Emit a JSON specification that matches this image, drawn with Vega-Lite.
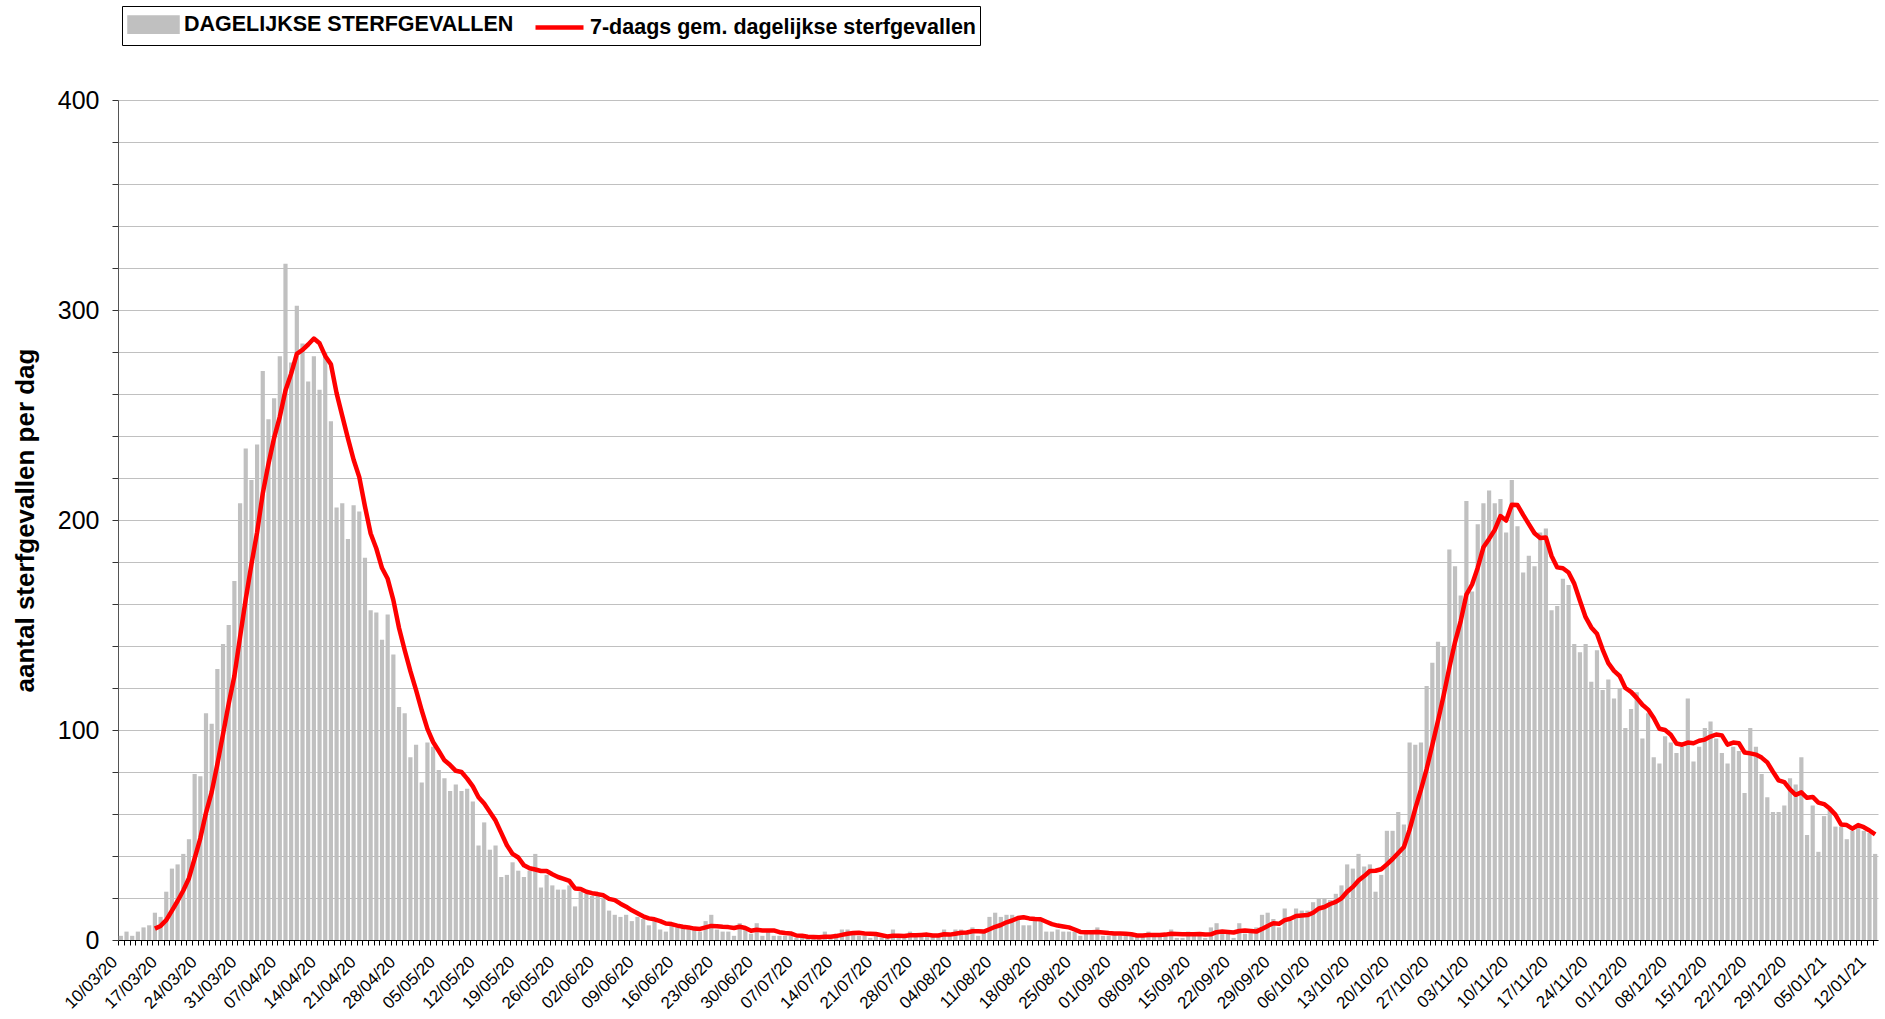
{
"$schema":"https://vega.github.io/schema/vega-lite/v6.json",
"width":1760,"height":840,
"autosize":{"type":"none"},
"padding":{"left":118,"top":100,"right":7,"bottom":79},
"background":"white",
"config":{"view":{"stroke":null},"font":"Liberation Sans"},
"data":{"values":[
{"date":"10/03/20","deaths":2},{"date":"11/03/20","deaths":4},{"date":"12/03/20","deaths":2},{"date":"13/03/20","deaths":4},{"date":"14/03/20","deaths":6},{"date":"15/03/20","deaths":7},
{"date":"16/03/20","deaths":13,"avg7":5.43},{"date":"17/03/20","deaths":11,"avg7":6.71},{"date":"18/03/20","deaths":23,"avg7":9.43},{"date":"19/03/20","deaths":34,"avg7":14},{"date":"20/03/20","deaths":36,"avg7":18.57},{"date":"21/03/20","deaths":41,"avg7":23.57},{"date":"22/03/20","deaths":48,"avg7":29.43},{"date":"23/03/20","deaths":79,"avg7":38.86},{"date":"24/03/20","deaths":78,"avg7":48.43},{"date":"25/03/20","deaths":108,"avg7":60.57},{"date":"26/03/20","deaths":103,"avg7":70.43},{"date":"27/03/20","deaths":129,"avg7":83.71},{"date":"28/03/20","deaths":141,"avg7":98},{"date":"29/03/20","deaths":150,"avg7":112.57},{"date":"30/03/20","deaths":171,"avg7":125.71},{"date":"31/03/20","deaths":208,"avg7":144.29},
{"date":"01/04/20","deaths":234,"avg7":162.29},{"date":"02/04/20","deaths":219,"avg7":178.86},{"date":"03/04/20","deaths":236,"avg7":194.14},{"date":"04/04/20","deaths":271,"avg7":212.71},{"date":"05/04/20","deaths":248,"avg7":226.71},{"date":"06/04/20","deaths":258,"avg7":239.14},{"date":"07/04/20","deaths":278,"avg7":249.14},{"date":"08/04/20","deaths":322,"avg7":261.71},{"date":"09/04/20","deaths":275,"avg7":269.71},{"date":"10/04/20","deaths":302,"avg7":279.14},{"date":"11/04/20","deaths":284,"avg7":281},{"date":"12/04/20","deaths":266,"avg7":283.57},{"date":"13/04/20","deaths":278,"avg7":286.43},{"date":"14/04/20","deaths":262,"avg7":284.14},{"date":"15/04/20","deaths":280,"avg7":278.14},{"date":"16/04/20","deaths":247,"avg7":274.14},{"date":"17/04/20","deaths":206,"avg7":260.43},{"date":"18/04/20","deaths":208,"avg7":249.57},{"date":"19/04/20","deaths":191,"avg7":238.86},{"date":"20/04/20","deaths":207,"avg7":228.71},{"date":"21/04/20","deaths":204,"avg7":220.43},{"date":"22/04/20","deaths":182,"avg7":206.43},{"date":"23/04/20","deaths":157,"avg7":193.57},{"date":"24/04/20","deaths":156,"avg7":186.43},{"date":"25/04/20","deaths":143,"avg7":177.14},{"date":"26/04/20","deaths":155,"avg7":172},{"date":"27/04/20","deaths":136,"avg7":161.86},{"date":"28/04/20","deaths":111,"avg7":148.57},{"date":"29/04/20","deaths":108,"avg7":138},{"date":"30/04/20","deaths":87,"avg7":128},
{"date":"01/05/20","deaths":93,"avg7":119},{"date":"02/05/20","deaths":75,"avg7":109.29},{"date":"03/05/20","deaths":94,"avg7":100.57},{"date":"04/05/20","deaths":92,"avg7":94.29},{"date":"05/05/20","deaths":81,"avg7":90},{"date":"06/05/20","deaths":77,"avg7":85.57},{"date":"07/05/20","deaths":71,"avg7":83.29},{"date":"08/05/20","deaths":74,"avg7":80.57},{"date":"09/05/20","deaths":71,"avg7":80},{"date":"10/05/20","deaths":72,"avg7":76.86},{"date":"11/05/20","deaths":66,"avg7":73.14},{"date":"12/05/20","deaths":45,"avg7":68},{"date":"13/05/20","deaths":56,"avg7":65},{"date":"14/05/20","deaths":43,"avg7":61},{"date":"15/05/20","deaths":45,"avg7":56.86},{"date":"16/05/20","deaths":30,"avg7":51},{"date":"17/05/20","deaths":31,"avg7":45.14},{"date":"18/05/20","deaths":37,"avg7":41},{"date":"19/05/20","deaths":33,"avg7":39.29},{"date":"20/05/20","deaths":30,"avg7":35.57},{"date":"21/05/20","deaths":33,"avg7":34.14},{"date":"22/05/20","deaths":41,"avg7":33.57},{"date":"23/05/20","deaths":25,"avg7":32.86},{"date":"24/05/20","deaths":31,"avg7":32.86},{"date":"25/05/20","deaths":26,"avg7":31.29},{"date":"26/05/20","deaths":24,"avg7":30},{"date":"27/05/20","deaths":24,"avg7":29.14},{"date":"28/05/20","deaths":26,"avg7":28.14},{"date":"29/05/20","deaths":16,"avg7":24.57},{"date":"30/05/20","deaths":23,"avg7":24.29},{"date":"31/05/20","deaths":22,"avg7":23},
{"date":"01/06/20","deaths":21,"avg7":22.29},{"date":"02/06/20","deaths":21,"avg7":21.86},{"date":"03/06/20","deaths":20,"avg7":21.29},{"date":"04/06/20","deaths":14,"avg7":19.57},{"date":"05/06/20","deaths":12,"avg7":19},{"date":"06/06/20","deaths":11,"avg7":17.29},{"date":"07/06/20","deaths":12,"avg7":15.86},{"date":"08/06/20","deaths":9,"avg7":14.14},{"date":"09/06/20","deaths":11,"avg7":12.71},{"date":"10/06/20","deaths":10,"avg7":11.29},{"date":"11/06/20","deaths":7,"avg7":10.29},{"date":"12/06/20","deaths":9,"avg7":9.86},{"date":"13/06/20","deaths":5,"avg7":9},{"date":"14/06/20","deaths":4,"avg7":7.86},{"date":"15/06/20","deaths":7,"avg7":7.57},{"date":"16/06/20","deaths":6,"avg7":6.86},{"date":"17/06/20","deaths":6,"avg7":6.29},{"date":"18/06/20","deaths":5,"avg7":6},{"date":"19/06/20","deaths":5,"avg7":5.43},{"date":"20/06/20","deaths":4,"avg7":5.29},{"date":"21/06/20","deaths":9,"avg7":6},{"date":"22/06/20","deaths":12,"avg7":6.71},{"date":"23/06/20","deaths":5,"avg7":6.57},{"date":"24/06/20","deaths":4,"avg7":6.29},{"date":"25/06/20","deaths":4,"avg7":6.14},{"date":"26/06/20","deaths":2,"avg7":5.71},{"date":"27/06/20","deaths":8,"avg7":6.29},{"date":"28/06/20","deaths":5,"avg7":5.71},{"date":"29/06/20","deaths":3,"avg7":4.43},{"date":"30/06/20","deaths":8,"avg7":4.86},
{"date":"01/07/20","deaths":2,"avg7":4.57},{"date":"02/07/20","deaths":4,"avg7":4.57},{"date":"03/07/20","deaths":2,"avg7":4.57},{"date":"04/07/20","deaths":2,"avg7":3.71},{"date":"05/07/20","deaths":2,"avg7":3.29},{"date":"06/07/20","deaths":2,"avg7":3.14},{"date":"07/07/20","deaths":1,"avg7":2.14},{"date":"08/07/20","deaths":1,"avg7":2},{"date":"09/07/20","deaths":1,"avg7":1.57},{"date":"10/07/20","deaths":1,"avg7":1.43},{"date":"11/07/20","deaths":1,"avg7":1.29},{"date":"12/07/20","deaths":4,"avg7":1.57},{"date":"13/07/20","deaths":2,"avg7":1.57},{"date":"14/07/20","deaths":3,"avg7":1.86},{"date":"15/07/20","deaths":5,"avg7":2.43},{"date":"16/07/20","deaths":5,"avg7":3},{"date":"17/07/20","deaths":3,"avg7":3.29},{"date":"18/07/20","deaths":2,"avg7":3.43},{"date":"19/07/20","deaths":2,"avg7":3.14},{"date":"20/07/20","deaths":1,"avg7":3},{"date":"21/07/20","deaths":2,"avg7":2.86},{"date":"22/07/20","deaths":1,"avg7":2.29},{"date":"23/07/20","deaths":1,"avg7":1.71},{"date":"24/07/20","deaths":5,"avg7":2},{"date":"25/07/20","deaths":2,"avg7":2},{"date":"26/07/20","deaths":1,"avg7":1.86},{"date":"27/07/20","deaths":4,"avg7":2.29},{"date":"28/07/20","deaths":2,"avg7":2.29},{"date":"29/07/20","deaths":2,"avg7":2.43},{"date":"30/07/20","deaths":2,"avg7":2.57},{"date":"31/07/20","deaths":2,"avg7":2.14},
{"date":"01/08/20","deaths":2,"avg7":2.14},{"date":"02/08/20","deaths":5,"avg7":2.71},{"date":"03/08/20","deaths":3,"avg7":2.57},{"date":"04/08/20","deaths":5,"avg7":3},{"date":"05/08/20","deaths":5,"avg7":3.43},{"date":"06/08/20","deaths":3,"avg7":3.57},{"date":"07/08/20","deaths":6,"avg7":4.14},{"date":"08/08/20","deaths":2,"avg7":4.14},{"date":"09/08/20","deaths":4,"avg7":4},{"date":"10/08/20","deaths":11,"avg7":5.14},{"date":"11/08/20","deaths":13,"avg7":6.29},{"date":"12/08/20","deaths":11,"avg7":7.14},{"date":"13/08/20","deaths":12,"avg7":8.43},{"date":"14/08/20","deaths":12,"avg7":9.29},{"date":"15/08/20","deaths":10,"avg7":10.43},{"date":"16/08/20","deaths":7,"avg7":10.86},{"date":"17/08/20","deaths":7,"avg7":10.29},{"date":"18/08/20","deaths":11,"avg7":10},{"date":"19/08/20","deaths":10,"avg7":9.86},{"date":"20/08/20","deaths":4,"avg7":8.71},{"date":"21/08/20","deaths":4,"avg7":7.57},{"date":"22/08/20","deaths":5,"avg7":6.86},{"date":"23/08/20","deaths":4,"avg7":6.43},{"date":"24/08/20","deaths":4,"avg7":6},{"date":"25/08/20","deaths":4,"avg7":5},{"date":"26/08/20","deaths":2,"avg7":3.86},{"date":"27/08/20","deaths":3,"avg7":3.71},{"date":"28/08/20","deaths":4,"avg7":3.71},{"date":"29/08/20","deaths":6,"avg7":3.86},{"date":"30/08/20","deaths":2,"avg7":3.57},{"date":"31/08/20","deaths":2,"avg7":3.29},
{"date":"01/09/20","deaths":3,"avg7":3.14},{"date":"02/09/20","deaths":2,"avg7":3.14},{"date":"03/09/20","deaths":2,"avg7":3},{"date":"04/09/20","deaths":2,"avg7":2.71},{"date":"05/09/20","deaths":2,"avg7":2.14},{"date":"06/09/20","deaths":2,"avg7":2.14},{"date":"07/09/20","deaths":4,"avg7":2.43},{"date":"08/09/20","deaths":3,"avg7":2.43},{"date":"09/09/20","deaths":2,"avg7":2.43},{"date":"10/09/20","deaths":3,"avg7":2.57},{"date":"11/09/20","deaths":5,"avg7":3},{"date":"12/09/20","deaths":1,"avg7":2.86},{"date":"13/09/20","deaths":1,"avg7":2.71},{"date":"14/09/20","deaths":4,"avg7":2.71},{"date":"15/09/20","deaths":3,"avg7":2.71},{"date":"16/09/20","deaths":3,"avg7":2.86},{"date":"17/09/20","deaths":1,"avg7":2.57},{"date":"18/09/20","deaths":6,"avg7":2.71},{"date":"19/09/20","deaths":8,"avg7":3.71},{"date":"20/09/20","deaths":3,"avg7":4},{"date":"21/09/20","deaths":3,"avg7":3.86},{"date":"22/09/20","deaths":1,"avg7":3.57},{"date":"23/09/20","deaths":8,"avg7":4.29},{"date":"24/09/20","deaths":3,"avg7":4.57},{"date":"25/09/20","deaths":4,"avg7":4.29},{"date":"26/09/20","deaths":6,"avg7":4},{"date":"27/09/20","deaths":12,"avg7":5.29},{"date":"28/09/20","deaths":13,"avg7":6.71},{"date":"29/09/20","deaths":10,"avg7":8},{"date":"30/09/20","deaths":6,"avg7":7.71},
{"date":"01/10/20","deaths":15,"avg7":9.43},{"date":"02/10/20","deaths":9,"avg7":10.14},{"date":"03/10/20","deaths":15,"avg7":11.43},{"date":"04/10/20","deaths":14,"avg7":11.71},{"date":"05/10/20","deaths":14,"avg7":11.86},{"date":"06/10/20","deaths":18,"avg7":13},{"date":"07/10/20","deaths":20,"avg7":15},{"date":"08/10/20","deaths":20,"avg7":15.71},{"date":"09/10/20","deaths":19,"avg7":17.14},{"date":"10/10/20","deaths":22,"avg7":18.14},{"date":"11/10/20","deaths":26,"avg7":19.86},{"date":"12/10/20","deaths":36,"avg7":23},{"date":"13/10/20","deaths":34,"avg7":25.29},{"date":"14/10/20","deaths":41,"avg7":28.29},{"date":"15/10/20","deaths":35,"avg7":30.43},{"date":"16/10/20","deaths":36,"avg7":32.86},{"date":"17/10/20","deaths":23,"avg7":33},{"date":"18/10/20","deaths":31,"avg7":33.71},{"date":"19/10/20","deaths":52,"avg7":36},{"date":"20/10/20","deaths":52,"avg7":38.57},{"date":"21/10/20","deaths":61,"avg7":41.43},{"date":"22/10/20","deaths":55,"avg7":44.29},{"date":"23/10/20","deaths":94,"avg7":52.57},{"date":"24/10/20","deaths":93,"avg7":62.57},{"date":"25/10/20","deaths":94,"avg7":71.57},{"date":"26/10/20","deaths":121,"avg7":81.43},{"date":"27/10/20","deaths":132,"avg7":92.86},{"date":"28/10/20","deaths":142,"avg7":104.43},{"date":"29/10/20","deaths":140,"avg7":116.57},{"date":"30/10/20","deaths":186,"avg7":129.71},{"date":"31/10/20","deaths":178,"avg7":141.86},
{"date":"01/11/20","deaths":164,"avg7":151.86},{"date":"02/11/20","deaths":209,"avg7":164.43},{"date":"03/11/20","deaths":166,"avg7":169.29},{"date":"04/11/20","deaths":198,"avg7":177.29},{"date":"05/11/20","deaths":208,"avg7":187},{"date":"06/11/20","deaths":214,"avg7":191},{"date":"07/11/20","deaths":208,"avg7":195.29},{"date":"08/11/20","deaths":210,"avg7":201.86},{"date":"09/11/20","deaths":194,"avg7":199.71},{"date":"10/11/20","deaths":219,"avg7":207.29},{"date":"11/11/20","deaths":197,"avg7":207.14},{"date":"12/11/20","deaths":175,"avg7":202.43},{"date":"13/11/20","deaths":183,"avg7":198},{"date":"14/11/20","deaths":178,"avg7":193.71},{"date":"15/11/20","deaths":194,"avg7":191.43},{"date":"16/11/20","deaths":196,"avg7":191.71},{"date":"17/11/20","deaths":157,"avg7":182.86},{"date":"18/11/20","deaths":159,"avg7":177.43},{"date":"19/11/20","deaths":172,"avg7":177},{"date":"20/11/20","deaths":169,"avg7":175},{"date":"21/11/20","deaths":141,"avg7":169.71},{"date":"22/11/20","deaths":137,"avg7":161.57},{"date":"23/11/20","deaths":141,"avg7":153.71},{"date":"24/11/20","deaths":123,"avg7":148.86},{"date":"25/11/20","deaths":138,"avg7":145.86},{"date":"26/11/20","deaths":119,"avg7":138.29},{"date":"27/11/20","deaths":124,"avg7":131.86},{"date":"28/11/20","deaths":115,"avg7":128.14},{"date":"29/11/20","deaths":120,"avg7":125.71},{"date":"30/11/20","deaths":101,"avg7":120},
{"date":"01/12/20","deaths":110,"avg7":118.14},{"date":"02/12/20","deaths":118,"avg7":115.29},{"date":"03/12/20","deaths":96,"avg7":112},{"date":"04/12/20","deaths":108,"avg7":109.71},{"date":"05/12/20","deaths":87,"avg7":105.71},{"date":"06/12/20","deaths":84,"avg7":100.57},{"date":"07/12/20","deaths":97,"avg7":100},{"date":"08/12/20","deaths":94,"avg7":97.71},{"date":"09/12/20","deaths":89,"avg7":93.57},{"date":"10/12/20","deaths":92,"avg7":93},{"date":"11/12/20","deaths":115,"avg7":94},{"date":"12/12/20","deaths":85,"avg7":93.71},{"date":"13/12/20","deaths":92,"avg7":94.86},{"date":"14/12/20","deaths":101,"avg7":95.43},{"date":"15/12/20","deaths":104,"avg7":96.86},{"date":"16/12/20","deaths":96,"avg7":97.86},{"date":"17/12/20","deaths":89,"avg7":97.43},{"date":"18/12/20","deaths":84,"avg7":93},{"date":"19/12/20","deaths":92,"avg7":94},{"date":"20/12/20","deaths":90,"avg7":93.71},{"date":"21/12/20","deaths":70,"avg7":89.29},{"date":"22/12/20","deaths":101,"avg7":88.86},{"date":"23/12/20","deaths":92,"avg7":88.29},{"date":"24/12/20","deaths":79,"avg7":86.86},{"date":"25/12/20","deaths":68,"avg7":84.57},{"date":"26/12/20","deaths":61,"avg7":80.14},{"date":"27/12/20","deaths":61,"avg7":76},{"date":"28/12/20","deaths":64,"avg7":75.14},{"date":"29/12/20","deaths":77,"avg7":71.71},{"date":"30/12/20","deaths":74,"avg7":69.14},{"date":"31/12/20","deaths":87,"avg7":70.29},
{"date":"01/01/21","deaths":50,"avg7":67.71},{"date":"02/01/21","deaths":64,"avg7":68.14},{"date":"03/01/21","deaths":42,"avg7":65.43},{"date":"04/01/21","deaths":59,"avg7":64.71},{"date":"05/01/21","deaths":62,"avg7":62.57},{"date":"06/01/21","deaths":54,"avg7":59.71},{"date":"07/01/21","deaths":54,"avg7":55},{"date":"08/01/21","deaths":48,"avg7":54.71},{"date":"09/01/21","deaths":52,"avg7":53},{"date":"10/01/21","deaths":54,"avg7":54.71},{"date":"11/01/21","deaths":52,"avg7":53.71},{"date":"12/01/21","deaths":51,"avg7":52.14},{"date":"13/01/21","deaths":41,"avg7":50.29}
]},
"encoding":{
 "x":{"field":"date","type":"ordinal","sort":null,
  "scale":{"paddingInner":0.26,"paddingOuter":0.13},
  "axis":{"title":null,"labelAngle":-45,"labelAlign":"right","labelBaseline":"middle","labelFontSize":17,"labelColor":"#000","labelPadding":14,"labelOffset":-6,
   "labelExpr":"day(datetime(2000 + toNumber(slice(datum.value, 6)), toNumber(slice(datum.value, 3, 5)) - 1, toNumber(slice(datum.value, 0, 2)))) === 2 ? datum.value : ''",
   "labelOverlap":false,"labelBound":false,"labelFlush":false,"tickSize":5,"tickColor":"#000","domainColor":"#000","domainWidth":1,"bandPosition":0,"grid":false}}
},
"layer":[
 {"mark":{"type":"bar"},
  "encoding":{
   "y":{"field":"deaths","type":"quantitative","scale":{"domain":[0,400],"nice":false},
    "axis":{"values":[0,20,40,60,80,100,120,140,160,180,200,220,240,260,280,300,320,340,360,380,400],
     "labelExpr":"datum.value % 100 === 0 ? datum.label : ''",
     "grid":true,"gridColor":"#c0c0c0","gridWidth":1,"domainColor":"#555","tickColor":"#333","tickSize":6,
     "labelFontSize":25,"labelColor":"#000","labelPadding":13,
     "title":"aantal sterfgevallen per dag","titleFontSize":26,"titleFontWeight":"bold","titleColor":"#000","titlePadding":19}},
   "color":{"datum":"DAGELIJKSE STERFGEVALLEN",
    "scale":{"domain":["DAGELIJKSE STERFGEVALLEN","7-daags gem. dagelijkse sterfgevallen"],"range":["#c0c0c0","#ff0000"]},
    "legend":{"orient":"none","legendX":4,"legendY":-94,"direction":"horizontal","title":null,
     "labelFont":"Liberation Sans","labelFontSize":21.5,"labelFontWeight":"bold","labelColor":"#000","labelLimit":0,
     "symbolSize":576,"symbolType":"M-2,-0.6H2V0.6H-2Z","symbolStrokeWidth":0,"symbolOffset":13,
     "strokeColor":"#000","fillColor":"#fff","padding":4,"columnPadding":12,"labelOffset":16,
     "encode":{"symbols":{"update":{
      "shape":{"signal":"datum.value === 'DAGELIJKSE STERFGEVALLEN' ? 'M-2,-0.6H2V0.6H-2Z' : 'M-2,0H2'"},
      "fill":{"signal":"datum.value === 'DAGELIJKSE STERFGEVALLEN' ? '#c0c0c0' : 'transparent'"},
      "stroke":{"signal":"datum.value === 'DAGELIJKSE STERFGEVALLEN' ? 'transparent' : '#ff0000'"},
      "strokeWidth":{"value":4.5},"opacity":{"value":1},"fillOpacity":{"value":1},"strokeOpacity":{"value":1}}}}}}
  }},
 {"mark":{"type":"line","strokeWidth":4.5,"strokeJoin":"round"},
  "encoding":{
   "y":{"field":"avg7","type":"quantitative","title":"aantal sterfgevallen per dag"},
   "color":{"datum":"7-daags gem. dagelijkse sterfgevallen"}
  }}
]
}
